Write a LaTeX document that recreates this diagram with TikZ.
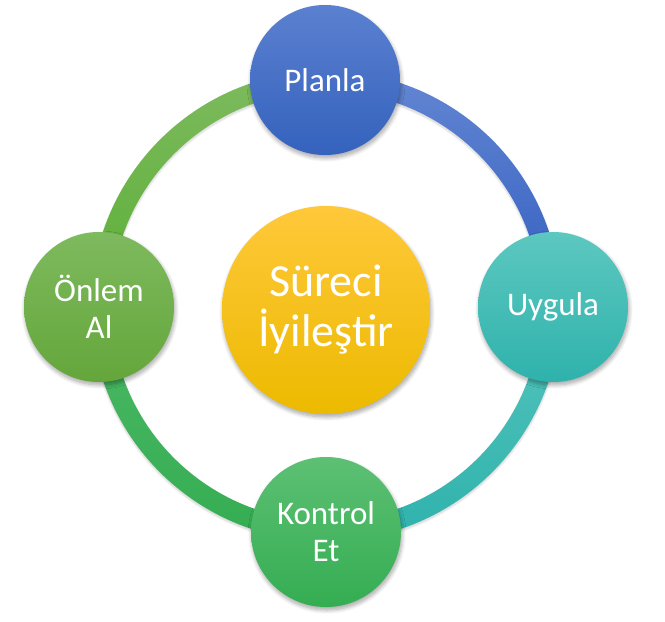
\documentclass[tikz,border=0pt]{standalone}
\usepackage{fontspec}
\setmainfont{Carlito}
\usetikzlibrary{shadows.blur}
\definecolor{blueT}{HTML}{5B80D0}
\definecolor{blueB}{HTML}{3462BD}
\definecolor{tealT}{HTML}{5CC8C0}
\definecolor{tealB}{HTML}{2FB2AC}
\definecolor{kgreenT}{HTML}{5DC074}
\definecolor{kgreenB}{HTML}{34AD52}
\definecolor{ogreenT}{HTML}{7EBA5E}
\definecolor{ogreenB}{HTML}{64A63B}
\definecolor{goldT}{HTML}{FFC83A}
\definecolor{goldB}{HTML}{ECBA00}
\begin{document}
\begin{tikzpicture}[x=1pt,y=-1pt,
  soft/.style={blur shadow={shadow xshift=1pt, shadow yshift=-3pt, shadow blur steps=8, shadow opacity=35, shadow blur radius=4pt}},
  ringshadow/.style={blur shadow={shadow xshift=0pt, shadow yshift=-2pt, shadow blur steps=5, shadow opacity=18, shadow blur radius=2pt}},
  stage/.style={circle, minimum size=150pt, inner sep=0pt, text=white, align=center,
    font=\fontsize{33}{37}\selectfont, soft},
  hub/.style={circle, minimum size=208pt, inner sep=0pt, text=white, align=center,
    font=\fontsize{46}{50}\selectfont, soft, top color=goldT, bottom color=goldB}]
\useasboundingbox (0,0) rectangle (665,622);
\coordinate (R) at (326,306);
% ring quadrants
\shade[ringshadow, top color=blueT!95!white, bottom color=blueB!95!blue]
  ([shift={(90:235pt)}]R) arc[start angle=90, end angle=0, radius=235pt]
  -- ([shift={(0:215pt)}]R) arc[start angle=0, end angle=90, radius=215pt] -- cycle;
\shade[ringshadow, top color=tealT!85!tealB, bottom color=tealB]
  ([shift={(0:235pt)}]R) arc[start angle=0, end angle=-90, radius=235pt]
  -- ([shift={(-90:215pt)}]R) arc[start angle=-90, end angle=0, radius=215pt] -- cycle;
\shade[ringshadow, top color=kgreenT!60!kgreenB, bottom color=kgreenB]
  ([shift={(180:235pt)}]R) arc[start angle=180, end angle=270, radius=235pt]
  -- ([shift={(270:215pt)}]R) arc[start angle=270, end angle=180, radius=215pt] -- cycle;
\shade[ringshadow, top color=ogreenT, bottom color=ogreenB!90!green]
  ([shift={(90:235pt)}]R) arc[start angle=90, end angle=180, radius=235pt]
  -- ([shift={(180:215pt)}]R) arc[start angle=180, end angle=90, radius=215pt] -- cycle;
% circles
\node[stage, top color=blueT, bottom color=blueB] (plan) at (325,80) {Planla};
\node[stage, top color=tealT, bottom color=tealB] (do) at (553,307) {Uygula};
\node[stage, top color=kgreenT, bottom color=kgreenB] (check) at (326,532) {Kontrol\\Et};
\node[stage, top color=ogreenT, bottom color=ogreenB] (act) at (99,307) {Önlem\\Al};
\node[hub] (core) at (326,310) {Süreci\\İyileştir};
\end{tikzpicture}
\end{document}
